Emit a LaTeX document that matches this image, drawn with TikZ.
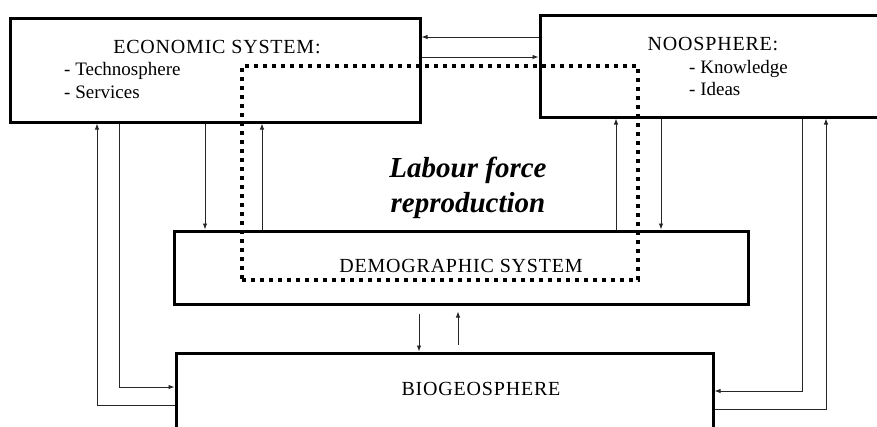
\documentclass[tikz,border=0pt]{standalone}
\usepackage{fontspec}
\setmainfont{Liberation Serif}
\usepackage{tikz}
\usetikzlibrary{arrows.meta,positioning}

\begin{document}
\begin{tikzpicture}[
    x=1pt, y=-1pt,
    block/.style={draw, rectangle, line width=3pt, inner sep=0pt},
    heading/.style={font={\fontsize{20}{24}\selectfont\addfontfeatures{LetterSpace=4}}, inner sep=0pt},
    entry/.style={font=\fontsize{19}{23}\selectfont, inner sep=0pt, anchor=base west},
    note/.style={font=\fontsize{29}{35}\selectfont\bfseries\itshape, inner sep=0pt, anchor=base},
    dotbox/.style={draw, rectangle, line width=3.5pt, dash pattern=on 4pt off 5pt, inner sep=0pt},
    arrow/.style={-{Latex[length=6pt,width=4.5pt]}, line width=0.9pt, black!85}
]
    \useasboundingbox (0,0) rectangle (877,426);
    \clip (0,0) rectangle (877,426);

    % the four systems
    \node[block, minimum width=410pt, minimum height=104pt] (econ) at (215,70) {};
    \node[block, minimum width=360pt, minimum height=102pt] (noos) at (720,66) {};
    \node[block, minimum width=574pt, minimum height=73pt] (demo) at (461,267.5) {};
    \node[block, minimum width=537pt, minimum height=97pt] (bio) at (444.5,401.5) {};

    \node[heading, anchor=base] (econT) at (217,53) {ECONOMIC SYSTEM:};
    \node[entry] (techno) at (64,75) {- Technosphere};
    \node[entry] (serv) at (64,98) {- Services};
    \node[heading, anchor=base] (noosT) at (713,50) {NOOSPHERE:};
    \node[entry] (know) at (689,73) {- Knowledge};
    \node[entry] (ideas) at (689,95) {- Ideas};
    \node[heading, anchor=base] (demoT) at (461,272) {DEMOGRAPHIC SYSTEM};
    \node[heading, anchor=base] (bioT) at (481,395) {BIOGEOSPHERE};

    % labour force loop
    \node[dotbox, minimum width=396pt, minimum height=214pt] (cycle) at (440,173) {};
    \node[note] (lab1) at (468,177) {Labour force};
    \node[note] (lab2) at (468,212) {reproduction};

    \draw[arrow] (noos.west |- 0,37) -- (econ.east |- 0,37);
    \draw[arrow] (econ.east |- 0,57) -- (noos.west |- 0,57);

    \draw[arrow] (bio.west |- 0,405) -| (econ.south -| 97,0);
    \draw[arrow] (econ.south -| 119,0) |- (bio.west |- 0,387);
    \draw[arrow] (econ.south -| 205,0) -- (demo.north -| 205,0);
    \draw[arrow] (demo.north -| 262,0) -- (econ.south -| 262,0);

    \draw[arrow] (demo.north -| 616,0) -- (noos.south -| 616,0);
    \draw[arrow] (noos.south -| 661,0) -- (demo.north -| 661,0);
    \draw[arrow] (noos.south -| 802,0) |- (bio.east |- 0,391);
    \draw[arrow] (bio.east |- 0,409) -| (noos.south -| 826,0);

    \draw[arrow, shorten <=8pt] (demo.south -| 419,0) -- (bio.north -| 419,0);
    \draw[arrow, shorten <=7pt, shorten >=6pt] (bio.north -| 458,0) -- (demo.south -| 458,0);
\end{tikzpicture}
\end{document}
